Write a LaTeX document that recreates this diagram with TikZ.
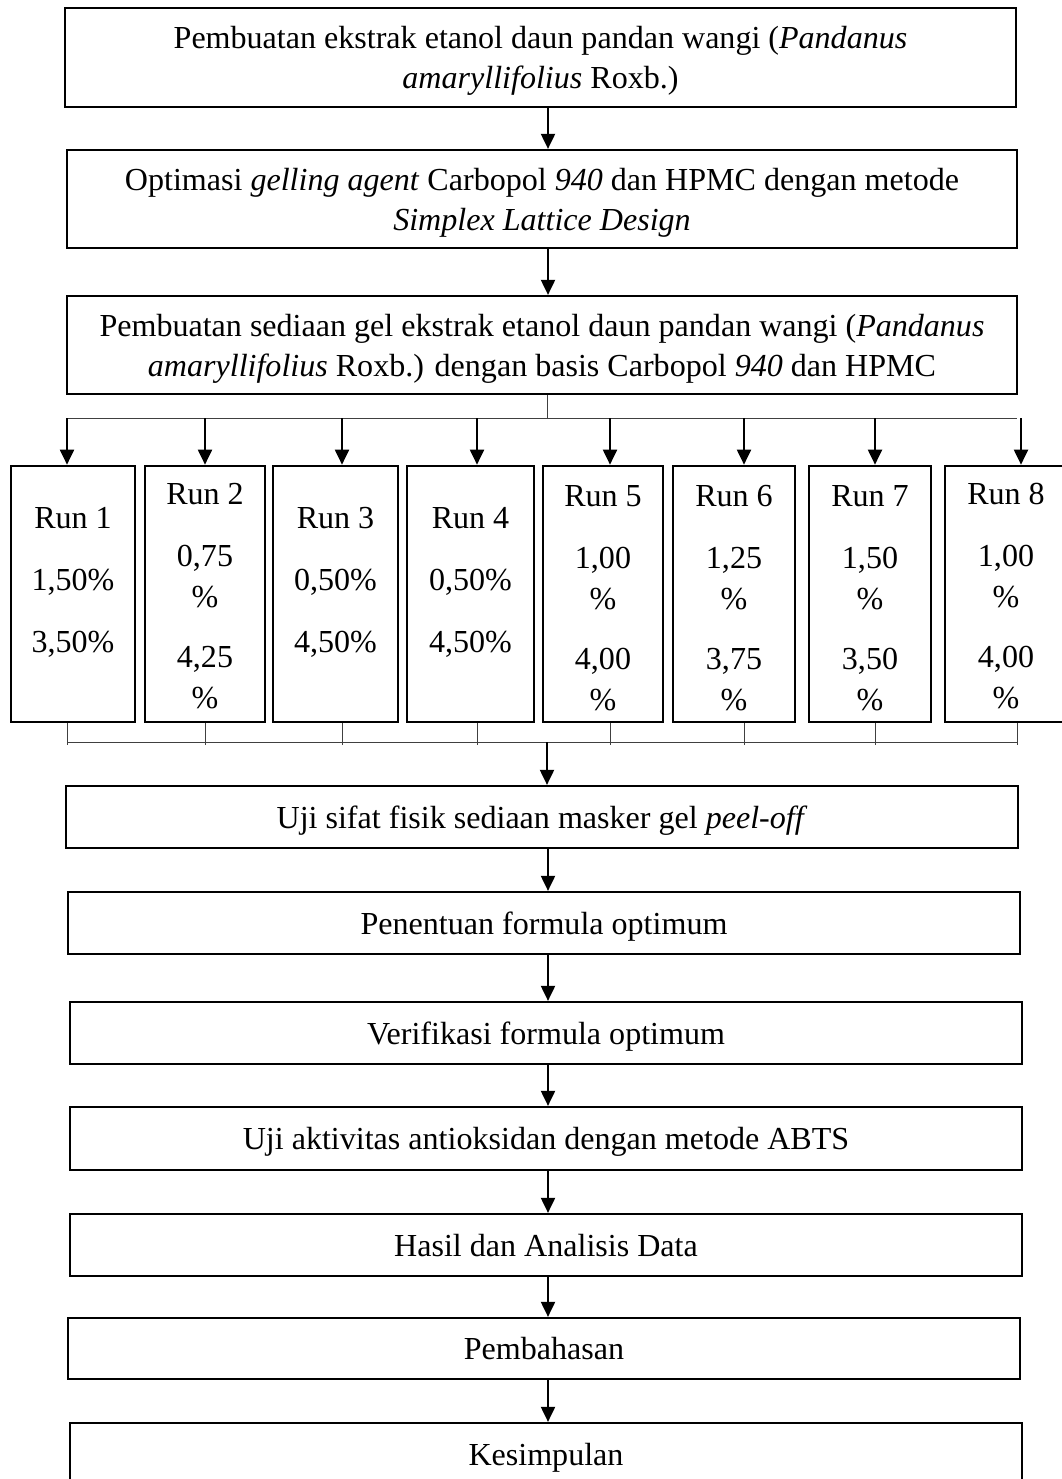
\documentclass[tikz,border=0pt]{standalone}
\usepackage{fontspec}
\setmainfont{Liberation Serif}
\usepackage{tikz}
\usetikzlibrary{arrows.meta}
\usetikzlibrary{calc}
\tikzstyle{stepbox}=[draw, line width=1.6pt, align=center, inner sep=0pt, text depth=0pt, font=\fontsize{22.8}{28.45}\selectfont]
\tikzstyle{runbox}=[draw, line width=1.9pt, inner sep=0pt, minimum height=256*0.025cm]
\tikzstyle{runtext}=[align=center, inner sep=0pt, font=\fontsize{22.8}{29.2}\selectfont]
\tikzstyle{arr}=[line width=1.4pt, -{Triangle[length=10.7pt,width=10pt]}]
\tikzstyle{bar}=[line width=0.7pt, black!75]
% one column of the fan: box, its text, arrow in, tick out
\newcommand{\runcol}[7]{
 \node[runbox, minimum width=#5*0.025cm] (#1) at (#4,594) {};
 \node[runtext] (#1txt) at ($(#1.center)+(0,#6)$) {#7};
 \coordinate (#1in) at (#2,418);
 \draw[arr] (#1in) -- (#1in |- #1.north);
 \coordinate (#1out) at (#3,745);
 \draw[bar] (#1.south -| #1out) -- (#1out);
}

\begin{document}
\begin{tikzpicture}[x=0.025cm, y=-0.025cm]
 \useasboundingbox (0,0) rectangle (1062,1479);
 \coordinate (spine) at (548,0);
%
 \node[stepbox, minimum width=951*0.025cm, minimum height=99*0.025cm] (ekstrak) at (540.5,57.5)
  {Pembuatan ekstrak etanol daun pandan wangi (\textit{Pandanus}\\ \textit{amaryllifolius} Roxb.)};
 \node[stepbox, minimum width=950*0.025cm, minimum height=98*0.025cm] (optimasi) at (542,199)
  {Optimasi \textit{gelling agent} Carbopol \textit{940} dan HPMC dengan metode\\ \textit{Simplex Lattice Design}};
 \node[stepbox, minimum width=950*0.025cm, minimum height=98*0.025cm] (sediaan) at (542,345)
  {Pembuatan sediaan gel ekstrak etanol daun pandan wangi (\textit{Pandanus}\\ \textit{amaryllifolius} Roxb.) dengan basis Carbopol \textit{940} dan HPMC};
 \draw[arr] (ekstrak.south -| spine) -- (optimasi.north -| spine);
 \draw[arr] (optimasi.south -| spine) -- (sediaan.north -| spine);
%
 \coordinate (split) at (547,418);
 \coordinate (splitL) at (67,418);
 \coordinate (splitR) at (1017,418);
 \draw[bar] (sediaan.south -| split) -- (split);
 \draw[bar] (splitL) -- (splitR);
%
 \runcol{run1}{67}{67}{73}{124}{-11.5}{Run 1\\[0.52cm]1,50\%\\[0.52cm]3,50\%}
 \runcol{run2}{205}{205}{205}{120}{2.5}{Run 2\\[0.52cm]0,75\\\%\\[0.47cm]4,25\\\%}
 \runcol{run3}{342}{342}{335.5}{125}{-11.5}{Run 3\\[0.52cm]0,50\%\\[0.52cm]4,50\%}
 \runcol{run4}{477}{477}{470.5}{127}{-11.5}{Run 4\\[0.52cm]0,50\%\\[0.52cm]4,50\%}
 \runcol{run5}{610}{610}{603}{120}{4.5}{Run 5\\[0.52cm]1,00\\\%\\[0.47cm]4,00\\\%}
 \runcol{run6}{744}{744}{734}{122}{4.5}{Run 6\\[0.52cm]1,25\\\%\\[0.47cm]3,75\\\%}
 \runcol{run7}{875}{875}{870}{122}{4.5}{Run 7\\[0.52cm]1,50\\\%\\[0.47cm]3,50\\\%}
 \runcol{run8}{1021}{1017}{1006}{122}{2}{Run 8\\[0.52cm]1,00\\\%\\[0.47cm]4,00\\\%}
%
 \coordinate (joinL) at (67,742);
 \coordinate (joinR) at (1017,742);
 \coordinate (join) at (547,742);
 \draw[bar] (joinL) -- (joinR);
%
 \node[stepbox, minimum width=952*0.025cm, minimum height=62*0.025cm] (fisik) at (542,817)
  {Uji sifat fisik sediaan masker gel \textit{peel-off}};
 \node[stepbox, minimum width=952*0.025cm, minimum height=62*0.025cm] (penentuan) at (544,923)
  {Penentuan formula optimum};
 \node[stepbox, minimum width=952*0.025cm, minimum height=62*0.025cm] (verifikasi) at (546,1033)
  {Verifikasi formula optimum};
 \node[stepbox, minimum width=952*0.025cm, minimum height=63*0.025cm] (abts) at (546,1138.5)
  {Uji aktivitas antioksidan dengan metode ABTS};
 \node[stepbox, minimum width=952*0.025cm, minimum height=62*0.025cm] (hasil) at (546,1245)
  {Hasil dan Analisis Data};
 \node[stepbox, minimum width=952*0.025cm, minimum height=61*0.025cm] (bahas) at (544,1348.5)
  {Pembahasan};
 \node[stepbox, minimum width=952*0.025cm, minimum height=62*0.025cm] (simpulan) at (546,1454)
  {Kesimpulan};
%
 \draw[arr] (join) -- (fisik.north -| join);
 \draw[arr] (fisik.south -| spine) -- (penentuan.north -| spine);
 \draw[arr] (penentuan.south -| spine) -- (verifikasi.north -| spine);
 \draw[arr] (verifikasi.south -| spine) -- (abts.north -| spine);
 \draw[arr] (abts.south -| spine) -- (hasil.north -| spine);
 \draw[arr] (hasil.south -| spine) -- (bahas.north -| spine);
 \draw[arr] (bahas.south -| spine) -- (simpulan.north -| spine);
\end{tikzpicture}
\end{document}
